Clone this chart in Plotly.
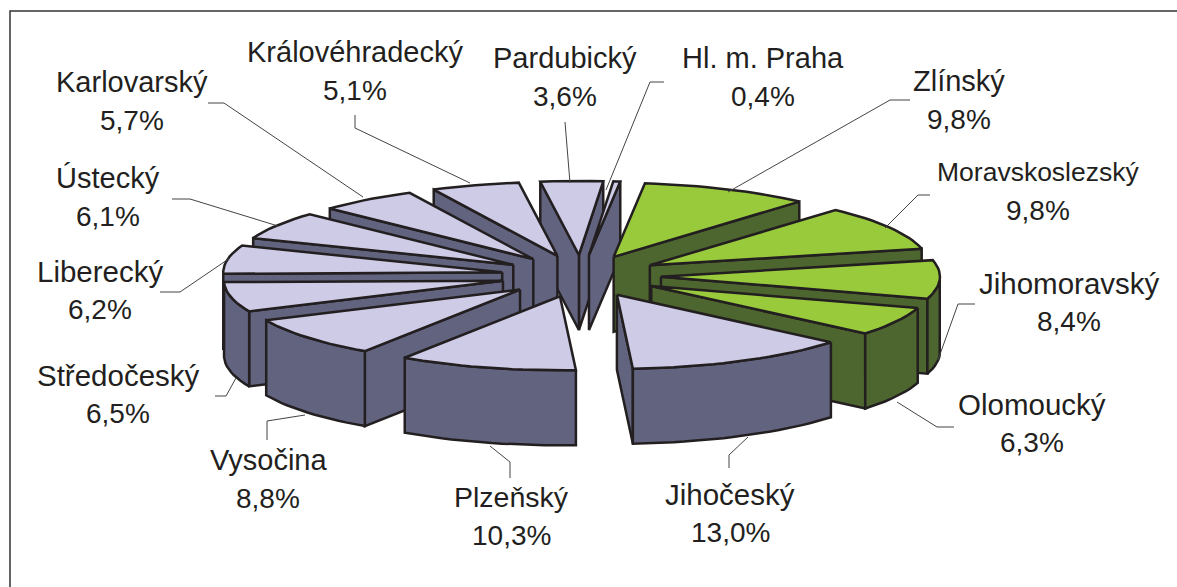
import numpy as np
import plotly.graph_objects as go

categories = ["Hl. m. Praha", "Zlínský", "Moravskoslezský", "Jihomoravský", "Olomoucký",
              "Jihočeský", "Plzeňský", "Vysočina", "Středočeský", "Liberecký",
              "Ústecký", "Karlovarský", "Královéhradecký", "Pardubický"]
shares = [0.4, 9.8, 9.8, 8.4, 6.3, 13.0, 10.3, 8.8, 6.5, 6.2, 6.1, 5.7, 5.1, 3.6]
value_labels = ["0,4%", "9,8%", "9,8%", "8,4%", "6,3%", "13,0%", "10,3%", "8,8%",
                "6,5%", "6,2%", "6,1%", "5,7%", "5,1%", "3,6%"]
green_group = ["Zlínský", "Moravskoslezský", "Jihomoravský", "Olomoucký"]

# placement of the text and its leader: text centre x, first-line centre y, font size, leader path
placement = {
    "Hl. m. Praha": (763, 58, 29, [(664, 82), (650, 82), (606, 190)]),
    "Zlínský": (959, 81, 29, [(910, 100), (890, 100), (728, 192)]),
    "Moravskoslezský": (1038, 172, 26.5, [(930, 195), (918, 195), (885, 228)]),
    "Jihomoravský": (1069, 283, 29.5, [(975, 304), (958, 304), (938, 360)]),
    "Olomoucký": (1032, 404, 29.5, [(954, 427), (937, 427), (897, 402)]),
    "Jihočeský": (730, 494, 29.5, [(729, 468), (729, 455), (748, 437)]),
    "Plzeňský": (511, 497, 28.5, [(510, 478), (510, 462), (490, 446)]),
    "Vysočina": (268, 460, 29, [(267, 440), (267, 421), (305, 415)]),
    "Středočeský": (118, 375, 29.5, [(215, 396), (226, 396), (236, 378)]),
    "Liberecký": (100, 271, 29.5, [(160, 292), (180, 292), (230, 258)]),
    "Ústecký": (108, 178, 29, [(172, 199), (190, 199), (278, 226)]),
    "Karlovarský": (132, 82, 29, [(208, 103), (224, 103), (363, 197)]),
    "Královéhradecký": (355, 52, 29, [(355, 115), (355, 128), (470, 183)]),
    "Pardubický": (565, 58, 29, [(565, 122), (570, 183)]),
}

CX, CY = 581, 276      # pie centre on the page
RX, RY = 279, 74       # ellipse of the top face
EX, EY = 80, 21        # explosion along the slice bisector
DEPTH = 75
START = 5.0            # degrees clockwise from north
LAV_TOP, LAV_SIDE = "#CDCBE6", "#62647F"
GRN_TOP, GRN_SIDE = "#99CA3C", "#4D652E"
INK = "#231F20"

fig = go.Figure()


def add_poly(pts, fill):
    xs = [p[0] for p in pts] + [pts[0][0]]
    ys = [p[1] for p in pts] + [pts[0][1]]
    fig.add_trace(go.Scatter(x=xs, y=ys, mode="lines", fill="toself", fillcolor=fill,
                             line=dict(color=INK, width=2.5), hoverinfo="skip",
                             showlegend=False))


edges = START + np.concatenate([[0], np.cumsum(shares)]) * 3.6
slices = []
for i, name in enumerate(categories):
    a0, a1 = edges[i], edges[i + 1]
    mid = np.radians((a0 + a1) / 2)
    ax, ay = CX + EX * np.sin(mid), CY - EY * np.cos(mid)
    n = max(3, int((a1 - a0) / 2))
    th = np.radians(np.linspace(a0, a1, n))
    arc = [(ax + RX * np.sin(t), ay - RY * np.cos(t)) for t in th]
    slices.append(dict(name=name, apex=(ax, ay), arc=arc, th=th, mid=mid))

for s in sorted(slices, key=lambda d: -np.cos(d["mid"])):
    top = GRN_TOP if s["name"] in green_group else LAV_TOP
    side = GRN_SIDE if s["name"] in green_group else LAV_SIDE
    apex, arc, th = s["apex"], s["arc"], s["th"]
    walls = []
    # radial cut faces: only those whose outward normal points at the viewer
    for p, sign in ((arc[0], -1), (arc[-1], 1)):
        if sign * (p[0] - apex[0]) > 0:
            walls.append([apex, p, (p[0], p[1] + DEPTH), (apex[0], apex[1] + DEPTH)])
    # outer wall: the part of the arc in the front half
    front = [p for p, t in zip(arc, th) if np.cos(t) < 0]
    if len(front) >= 2:
        walls.append(front + [(p[0], p[1] + DEPTH) for p in reversed(front)])
    for w in sorted(walls, key=lambda w: np.mean([q[1] for q in w])):
        add_poly(w, side)
    add_poly([apex] + arc, top)

annotations = []
shapes = [dict(type="rect", xref="x", yref="y", x0=10, y0=11, x1=1200, y1=600,
               line=dict(color="#333333", width=1.5), fillcolor="rgba(0,0,0,0)")]
for name, lab in zip(categories, value_labels):
    x, y, size, path = placement[name]
    annotations.append(dict(x=x, y=y, xref="x", yref="y", text=name, showarrow=False,
                            xanchor="center", yanchor="middle",
                            font=dict(family="Liberation Sans", size=size, color=INK)))
    annotations.append(dict(x=x, y=y + 38, xref="x", yref="y", text=lab, showarrow=False,
                            xanchor="center", yanchor="middle",
                            font=dict(family="Liberation Sans", size=28, color=INK)))
    fig.add_trace(go.Scatter(x=[p[0] for p in path], y=[p[1] for p in path], mode="lines",
                             line=dict(color="#444444", width=1), hoverinfo="skip",
                             showlegend=False))

fig.update_layout(width=1177, height=587, margin=dict(l=0, r=0, t=0, b=0),
                  paper_bgcolor="white", plot_bgcolor="white", showlegend=False,
                  xaxis=dict(range=[0, 1177], visible=False, fixedrange=True),
                  yaxis=dict(range=[587, 0], visible=False, fixedrange=True),
                  annotations=annotations, shapes=shapes)
fig.write_html("out.html", config=dict(displayModeBar=False),
               post_script="document.body.style.margin='0';document.body.style.overflow='hidden';")
